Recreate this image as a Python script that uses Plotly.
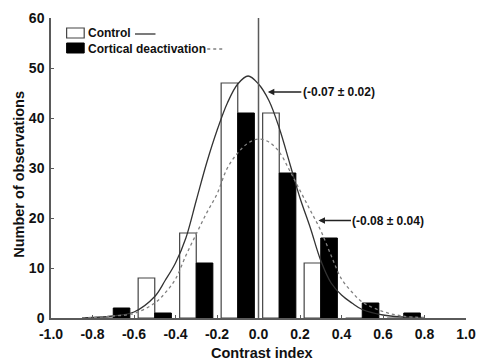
import plotly.graph_objects as go

# Histogram bins (bin centres, width 0.2)
bin_centers = [-0.7, -0.5, -0.3, -0.1, 0.1, 0.3, 0.5, 0.7]
control_counts = [0, 8, 17, 47, 41, 11, 0, 0]
deactivation_counts = [2, 1, 11, 41, 29, 16, 3, 1]

# Fitted distribution curves
curve_x = [-0.85, -0.8, -0.7, -0.6, -0.5, -0.45, -0.4, -0.35, -0.3, -0.25, -0.2,
           -0.15, -0.1, -0.05, 0.0, 0.05, 0.1, 0.15, 0.2, 0.25, 0.3, 0.35, 0.4,
           0.45, 0.5, 0.6, 0.7, 0.8]
control_fit = [0.0, 0.1, 0.4, 1.2, 4.3, 7.5, 11.0, 16.0, 23.5, 31.0, 37.5,
               43.0, 46.8, 48.4, 46.8, 43.5, 38.0, 31.0, 24.0, 18.0, 11.5, 7.0, 4.6,
               3.0, 1.7, 0.6, 0.2, 0.05]
deactivation_fit = [0.0, 0.1, 0.4, 0.9, 3.0, 5.0, 7.8, 12.5, 16.8, 21.0, 24.8,
                    30.0, 33.0, 35.0, 35.8, 35.2, 33.2, 29.5, 25.5, 21.5, 17.5, 12.5, 7.8,
                    5.2, 3.2, 1.3, 0.35, 0.1]

x_ticks = [-1.0, -0.8, -0.6, -0.4, -0.2, 0.0, 0.2, 0.4, 0.6, 0.8, 1.0]
y_ticks = [0, 10, 20, 30, 40, 50, 60]

FONT = "Liberation Sans, Arial, sans-serif"
AXIS_COLOR = "#5a5a5a"

fig = go.Figure()

fig.add_trace(go.Bar(
    x=bin_centers, y=control_counts, name="Control",
    marker=dict(color="white", line=dict(color="#444444", width=1.2)),
))
fig.add_trace(go.Bar(
    x=bin_centers, y=deactivation_counts, name="Cortical deactivation",
    marker=dict(color="black", line=dict(color="black", width=1)),
))

fig.add_trace(go.Scatter(
    x=curve_x, y=control_fit, mode="lines", line_shape="spline",
    line=dict(color="#333333", width=1.3), showlegend=False,
))
fig.add_trace(go.Scatter(
    x=curve_x, y=deactivation_fit, mode="lines", line_shape="spline",
    line=dict(color="#808080", width=1.3, dash="dot"), showlegend=False,
))

# Reference line at zero
fig.add_shape(type="line", xref="x", yref="y", x0=0, x1=0, y0=0, y1=60,
              line=dict(color=AXIS_COLOR, width=1.5))

# Hand-built legend: swatch, label, then line sample
def px_x(p):
    return (p - 51) / 425.0

def px_y(p):
    return (318 - p) / 300.0

fig.add_shape(type="rect", xref="paper", yref="paper",
              x0=px_x(67), x1=px_x(85), y0=px_y(38), y1=px_y(28),
              line=dict(color="#444444", width=1.2), fillcolor="white")
fig.add_shape(type="rect", xref="paper", yref="paper",
              x0=px_x(67), x1=px_x(85), y0=px_y(53), y1=px_y(43),
              line=dict(color="black", width=1), fillcolor="black")
fig.add_annotation(xref="paper", yref="paper", x=px_x(87), y=px_y(33.5),
                   text="<b>Control</b>", showarrow=False, xanchor="left",
                   yanchor="middle", font=dict(family=FONT, size=12, color="#111"))
fig.add_annotation(xref="paper", yref="paper", x=px_x(87), y=px_y(48.5),
                   text="<b>Cortical deactivation</b>", showarrow=False,
                   xanchor="left", yanchor="middle",
                   font=dict(family=FONT, size=12, color="#111"))
fig.add_shape(type="line", xref="paper", yref="paper",
              x0=px_x(137), x1=px_x(158), y0=px_y(34), y1=px_y(34),
              line=dict(color="#333333", width=1.3))
fig.add_shape(type="line", xref="paper", yref="paper",
              x0=px_x(211), x1=px_x(229), y0=px_y(49), y1=px_y(49),
              line=dict(color="#808080", width=1.3, dash="dot"))

# Mean ± SEM labels with arrows
fig.add_annotation(x=0.045, y=45.2, xref="x", yref="y",
                   text="<b>(-0.07 ± 0.02)</b>", showarrow=True,
                   arrowhead=2, arrowsize=1, arrowwidth=1.3, arrowcolor="#222",
                   ax=71, ay=0, font=dict(family=FONT, size=12, color="#111"))
fig.add_annotation(x=0.289, y=19.5, xref="x", yref="y",
                   text="<b>(-0.08 ± 0.04)</b>", showarrow=True,
                   arrowhead=2, arrowsize=1, arrowwidth=1.3, arrowcolor="#222",
                   ax=70, ay=0, font=dict(family=FONT, size=12, color="#111"))

# Axis titles
fig.add_annotation(xref="paper", yref="paper", x=px_x(18), y=px_y(174),
                   text="<b>Number of observations</b>", showarrow=False,
                   textangle=-90, xanchor="center", yanchor="middle",
                   font=dict(family=FONT, size=14.5, color="#111"))
fig.add_annotation(xref="paper", yref="paper", x=px_x(267), y=px_y(353),
                   text="<b>Contrast index</b>", showarrow=False,
                   xanchor="center", yanchor="middle",
                   font=dict(family=FONT, size=14.5, color="#111"))

fig.update_layout(
    width=486, height=360,
    margin=dict(l=51, r=10, t=18, b=42),
    paper_bgcolor="white", plot_bgcolor="white",
    barmode="group", bargap=0.2, bargroupgap=0,
    showlegend=False,
    font=dict(family=FONT, color="#111"),
)
fig.update_xaxes(
    range=[-1.0, 1.0], tickvals=x_ticks,
    ticktext=[f"<b>{v:.1f}</b>" for v in x_ticks],
    showgrid=False, zeroline=False, showline=True, linecolor=AXIS_COLOR,
    linewidth=1.5, ticks="inside", ticklen=3, tickcolor=AXIS_COLOR,
    ticklabelstandoff=2,
    tickfont=dict(family=FONT, size=14, color="#111"),
)
fig.update_yaxes(
    range=[0, 60], tickvals=y_ticks,
    ticktext=[f"<b>{v}</b>" for v in y_ticks],
    showgrid=False, zeroline=False, showline=True, linecolor=AXIS_COLOR,
    linewidth=1.5, ticks="inside", ticklen=3, tickcolor=AXIS_COLOR,
    ticklabelstandoff=2,
    tickfont=dict(family=FONT, size=14, color="#111"),
)

fig.write_html("out.html")
